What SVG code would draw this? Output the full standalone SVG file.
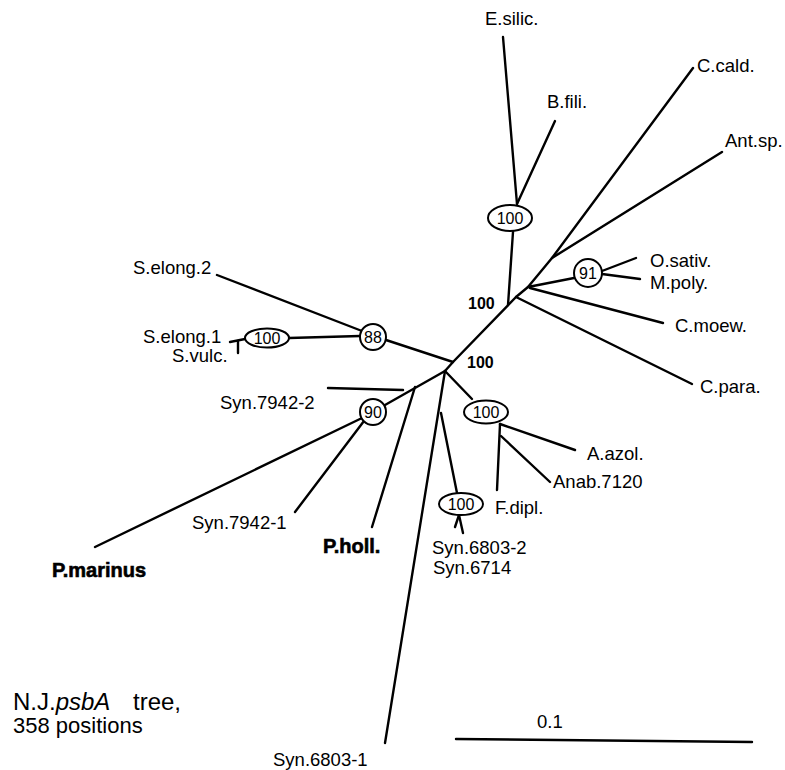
<svg xmlns="http://www.w3.org/2000/svg" width="785" height="770" viewBox="0 0 785 770">
  <style>
    .br { fill: none; stroke: #000; stroke-width: 2.4; stroke-linecap: round; stroke-linejoin: round; }
    .bs { fill: #fff; stroke: #000; stroke-width: 2; }
    .lb { font-family: "Liberation Sans", Arial, sans-serif; font-size: 18.5px; fill: #000; }
    .bl { font-family: "Liberation Sans", Arial, sans-serif; font-size: 16px; fill: #000; text-anchor: middle; }
    .bt { font-family: "Liberation Sans", Arial, sans-serif; font-size: 16px; font-weight: bold; fill: #000; }
    .hv { font-family: "Liberation Sans", Arial, sans-serif; font-size: 20px; font-weight: bold; fill: #000; stroke: #000; stroke-width: 0.6; }
    .cap { font-family: "Liberation Sans", Arial, sans-serif; fill: #000; }
  </style>
  <rect width="785" height="770" fill="#fff"/>

  <!-- tree branches -->
  <g id="connectors">
    <!-- backbone -->
    <polyline class="br" points="445,371 453,362 516,297 528,287 552,258 693,68"/>
    <line class="br" x1="552" y1="258" x2="722" y2="152"/>
    <line class="br" x1="528" y1="287" x2="574" y2="278"/>
    <line class="br" x1="602" y1="271" x2="636" y2="258"/>
    <line class="br" x1="602" y1="274" x2="640" y2="279"/>
    <line class="br" x1="530" y1="288" x2="663" y2="323"/>
    <line class="br" x1="516" y1="297" x2="692" y2="384"/>
    <!-- E.silic / B.fili clade -->
    <line class="br" x1="508" y1="305" x2="513" y2="232"/>
    <line class="br" x1="517" y1="204" x2="503" y2="37"/>
    <line class="br" x1="517" y1="204" x2="555" y2="121"/>
    <!-- S.elong clade -->
    <line class="br" x1="453" y1="362" x2="386" y2="340"/>
    <line class="br" x1="362" y1="331" x2="217" y2="275"/>
    <line class="br" x1="360" y1="336" x2="289" y2="338"/>
    <line class="br" x1="245" y1="339" x2="230" y2="342"/>
    <line class="br" x1="238" y1="341" x2="238" y2="353"/>
    <!-- Synechococcus / Prochlorococcus clade -->
    <line class="br" x1="445" y1="371" x2="385" y2="405"/>
    <line class="br" x1="362" y1="418" x2="95" y2="547"/>
    <line class="br" x1="364" y1="421" x2="295" y2="512"/>
    <line class="br" x1="328" y1="388" x2="403" y2="390"/>
    <line class="br" x1="415" y1="387" x2="372" y2="527"/>
    <!-- Synechocystis -->
    <line class="br" x1="445" y1="371" x2="385" y2="743"/>
    <line class="br" x1="441" y1="413" x2="457" y2="493"/>
    <line class="br" x1="459" y1="515" x2="455" y2="527"/>
    <line class="br" x1="459" y1="515" x2="463" y2="533"/>
    <!-- heterocystous clade -->
    <line class="br" x1="445" y1="371" x2="472" y2="399"/>
    <line class="br" x1="500" y1="424" x2="575" y2="450"/>
    <line class="br" x1="500" y1="424" x2="497" y2="490"/>
    <line class="br" x1="501" y1="436" x2="550" y2="482"/>
    <!-- scale bar -->
    <line class="br" x1="456" y1="739" x2="752" y2="742" stroke-width="2"/>
  </g>

  <!-- bootstrap nodes -->
  <g id="node-esilic-bfili">
    <ellipse class="bs" cx="510" cy="218" rx="22" ry="13"/>
    <text class="bl" x="510" y="224">100</text>
  </g>
  <g id="node-osativ-mpoly">
    <circle class="bs" cx="588" cy="273" r="14"/>
    <text class="bl" x="588" y="279">91</text>
  </g>
  <g id="node-selong">
    <circle class="bs" cx="373" cy="337" r="13"/>
    <text class="bl" x="373" y="343">88</text>
  </g>
  <g id="node-selong1-svulc">
    <ellipse class="bs" cx="267" cy="338" rx="22" ry="9.5"/>
    <text class="bl" x="267" y="344">100</text>
  </g>
  <g id="node-syn7942">
    <circle class="bs" cx="373" cy="412" r="13"/>
    <text class="bl" x="373" y="418">90</text>
  </g>
  <g id="node-syn6803-2">
    <ellipse class="bs" cx="461" cy="504" rx="22" ry="11"/>
    <text class="bl" x="461" y="510">100</text>
  </g>
  <g id="node-nostoc">
    <ellipse class="bs" cx="486" cy="412" rx="22" ry="11.5"/>
    <text class="bl" x="486" y="418">100</text>
  </g>
  <g id="node-root-upper">
    <text class="bt" x="468" y="309">100</text>
  </g>
  <g id="node-root-lower">
    <text class="bt" x="467" y="368">100</text>
  </g>

  <!-- taxa -->
  <g id="taxon-esilic"><text class="lb" x="485" y="25">E.silic.</text></g>
  <g id="taxon-bfili"><text class="lb" x="547" y="108">B.fili.</text></g>
  <g id="taxon-ccald"><text class="lb" x="697" y="72">C.cald.</text></g>
  <g id="taxon-antsp"><text class="lb" x="725" y="147">Ant.sp.</text></g>
  <g id="taxon-osativ"><text class="lb" x="650" y="267">O.sativ.</text></g>
  <g id="taxon-mpoly"><text class="lb" x="650" y="289">M.poly.</text></g>
  <g id="taxon-cmoew"><text class="lb" x="675" y="332">C.moew.</text></g>
  <g id="taxon-cpara"><text class="lb" x="700" y="393">C.para.</text></g>
  <g id="taxon-selong2"><text class="lb" x="133" y="274">S.elong.2</text></g>
  <g id="taxon-selong1"><text class="lb" x="143" y="343">S.elong.1</text></g>
  <g id="taxon-svulc"><text class="lb" x="172" y="362">S.vulc.</text></g>
  <g id="taxon-syn7942-2"><text class="lb" x="220" y="409">Syn.7942-2</text></g>
  <g id="taxon-syn7942-1"><text class="lb" x="192" y="529">Syn.7942-1</text></g>
  <g id="taxon-pholl"><text class="hv" x="323" y="553">P.holl.</text></g>
  <g id="taxon-pmarinus"><text class="hv" x="52" y="577">P.marinus</text></g>
  <g id="taxon-syn6803-2"><text class="lb" x="432" y="554">Syn.6803-2</text></g>
  <g id="taxon-syn6714"><text class="lb" x="433" y="574">Syn.6714</text></g>
  <g id="taxon-aazol"><text class="lb" x="587" y="460">A.azol.</text></g>
  <g id="taxon-anab7120"><text class="lb" x="553" y="488">Anab.7120</text></g>
  <g id="taxon-fdipl"><text class="lb" x="495" y="514">F.dipl.</text></g>
  <g id="taxon-syn6803-1"><text class="lb" x="273" y="766">Syn.6803-1</text></g>

  <!-- scale and caption -->
  <text class="lb" x="537" y="728">0.1</text>
  <text class="cap" font-size="24" x="13" y="710">N.J.<tspan font-style="italic">psbA</tspan><tspan x="133">tree,</tspan></text>
  <text class="cap" font-size="22" x="13" y="733">358 positions</text>
</svg>
